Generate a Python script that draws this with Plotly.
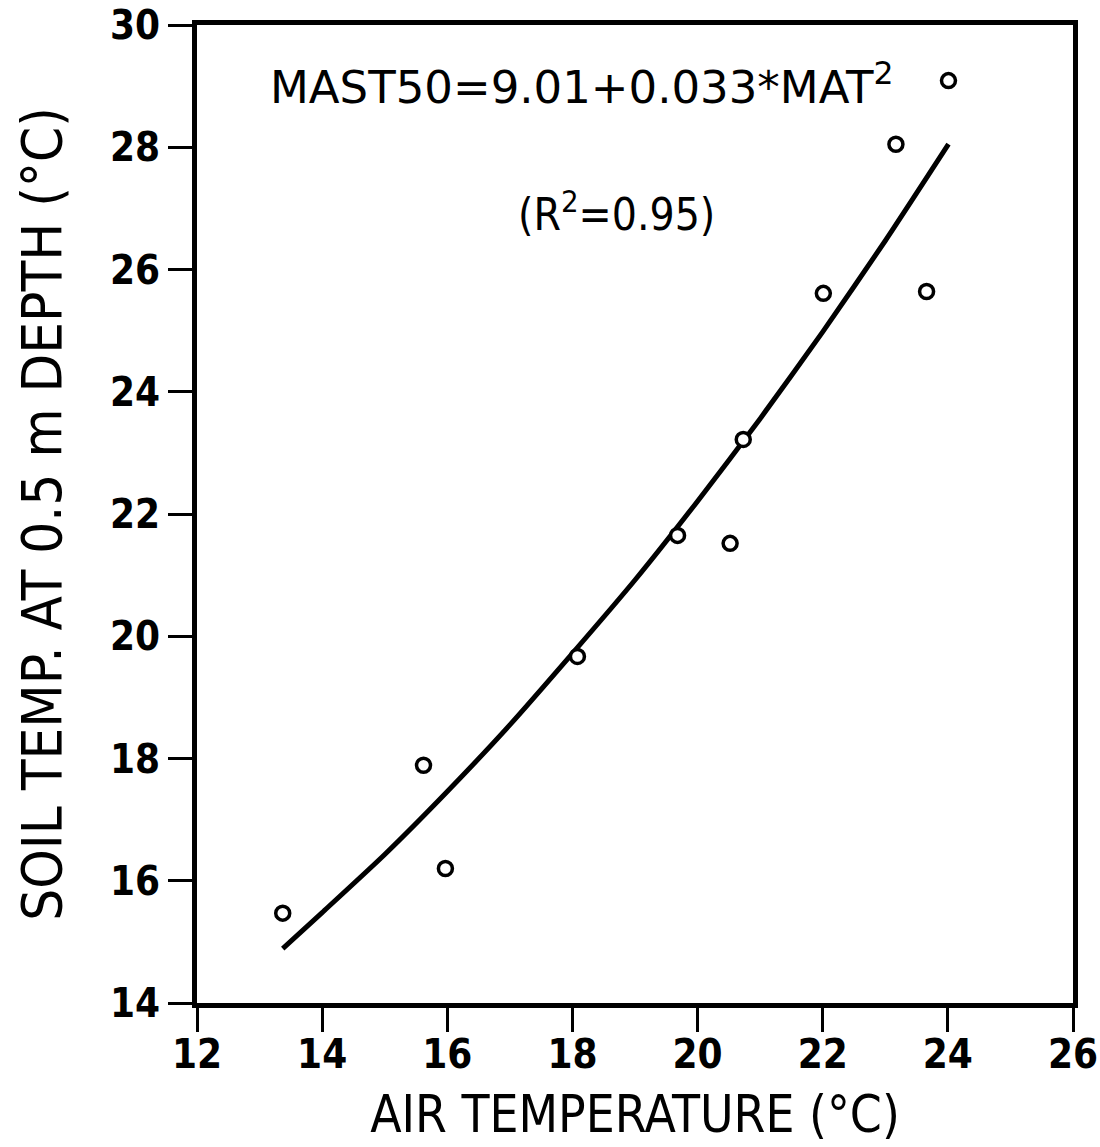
import plotly.graph_objects as go

air_temp = [13.37, 15.62, 15.97, 18.08, 19.68, 20.52, 20.73, 22.01, 23.17, 23.66, 24.01]
soil_temp = [15.47, 17.89, 16.20, 19.67, 21.65, 21.52, 23.22, 25.61, 28.05, 25.64, 29.09]

# Fitted curve as drawn
fit_x = [13.37, 14.0, 15.0, 16.0, 17.0, 18.0, 19.0, 20.0, 21.0, 22.0, 23.0, 24.01]
fit_y = [14.89, 15.48, 16.43, 17.46, 18.55, 19.72, 20.92, 22.21, 23.56, 24.98, 26.47, 28.05]

x_ticks = [12, 14, 16, 18, 20, 22, 24, 26]
y_ticks = [14, 16, 18, 20, 22, 24, 26, 28, 30]

equation_text = "MAST50=9.01+0.033*MAT<sup>2</sup>"
r2_text = "(R<sup>2</sup>=0.95)"

tick_font = dict(family="DejaVu Sans Condensed, DejaVu Sans, sans-serif", size=40, color="black",
                 weight="bold")
title_font = "DejaVu Sans Condensed, DejaVu Sans, sans-serif"

fig = go.Figure()
fig.add_trace(go.Scatter(x=fit_x, y=fit_y, mode="lines",
                         line=dict(color="black", width=5, shape="spline", smoothing=0.6),
                         showlegend=False))
fig.add_trace(go.Scatter(x=air_temp, y=soil_temp, mode="markers",
                         marker=dict(symbol="circle", size=14, color="white",
                                     line=dict(color="black", width=3.5)),
                         showlegend=False))

fig.add_annotation(x=13.13, y=29.03, xref="x", yref="y", text=equation_text,
                   showarrow=False, xanchor="left", yanchor="middle",
                   font=dict(family="DejaVu Sans, sans-serif", size=45, color="black"))
fig.add_annotation(x=18.70, y=26.95, xref="x", yref="y", text=r2_text,
                   showarrow=False, xanchor="center", yanchor="middle",
                   font=dict(family="DejaVu Sans Condensed, DejaVu Sans, sans-serif", size=44, color="black"))

axis_common = dict(showline=True, linecolor="black", linewidth=5, mirror=True,
                   ticks="outside", ticklen=24, tickwidth=3, tickcolor="black",
                   showgrid=False, zeroline=False, tickfont=tick_font)

fig.update_xaxes(range=[12, 26], tickvals=x_ticks, ticktext=[str(v) for v in x_ticks],
                 ticklabelstandoff=-12,
                 title=dict(text="AIR TEMPERATURE (°C)", font=dict(family=title_font, size=51, color="black"),
                            standoff=22),
                 **axis_common)
fig.update_yaxes(range=[14, 30], tickvals=y_ticks, ticktext=[str(v) for v in y_ticks],
                 title=dict(text="SOIL TEMP. AT 0.5 m DEPTH (°C)", font=dict(family=title_font, size=56, color="black"),
                            standoff=32),
                 **axis_common)

fig.update_layout(width=1100, height=1147,
                  margin=dict(l=197, r=27, t=25, b=144, autoexpand=False),
                  paper_bgcolor="white", plot_bgcolor="white")

fig.write_html("out.html")
